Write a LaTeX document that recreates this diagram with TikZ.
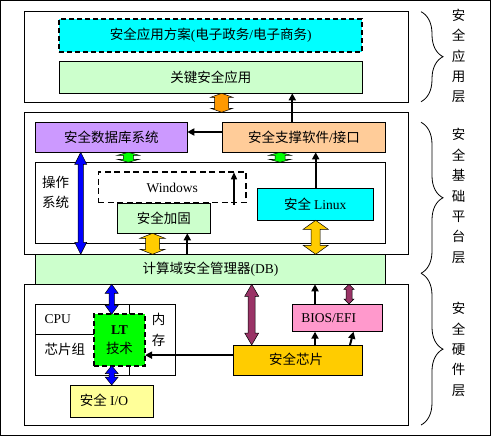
\documentclass[tikz,border=0pt]{standalone}
\usepackage{fontspec}
\setmainfont{Liberation Serif}
\newfontfamily\cjk{Noto Sans CJK SC}
\usetikzlibrary{calc,arrows.meta,decorations.pathreplacing}
\definecolor{cyanc}{HTML}{00FFFF}
\definecolor{lgreen}{HTML}{CCFFCC}
\definecolor{lpurple}{HTML}{CC99FF}
\definecolor{lorange}{HTML}{FFCC99}
\definecolor{orangea}{HTML}{FF9900}
\definecolor{greena}{HTML}{00FF00}
\definecolor{bluea}{HTML}{0000FF}
\definecolor{yellowa}{HTML}{FFCC00}
\definecolor{pinkc}{HTML}{FF99CC}
\definecolor{lyellow}{HTML}{FFFF99}
\definecolor{purplea}{HTML}{993366}
\newcommand\myfs{\fontsize{13.5pt}{16pt}\selectfont}
\newcommand\fatdbl[7]{%
  \path[draw=black, line width=0.5pt, fill=#1] let \p1=(#2 |- #3), \p2=(#2 |- #4) in
   (\x1,\y1) -- ({\x1+#6pt},{\y1-#7pt}) -- ({\x1+#5pt},{\y1-#7pt}) -- ({\x1+#5pt},{\y2+#7pt})
   -- ({\x1+#6pt},{\y2+#7pt}) -- (\x1,\y2) -- ({\x1-#6pt},{\y2+#7pt}) -- ({\x1-#5pt},{\y2+#7pt})
   -- ({\x1-#5pt},{\y1-#7pt}) -- ({\x1-#6pt},{\y1-#7pt}) -- cycle;}
\begin{document}
\begin{tikzpicture}[x=1pt,y=-1pt,
  box/.style={draw=black, line width=0.8pt, anchor=north west, inner sep=0pt, outer sep=0pt,
              font=\myfs\cjk, align=center},
  txt/.style={inner sep=0pt, font=\myfs\cjk, align=center},
  blk/.style={line width=2pt, -{Triangle[width=7pt,length=7pt]}},
  blkthin/.style={line width=1.4pt, -{Triangle[width=6pt,length=7pt]}},
  brc/.style={decorate, decoration={brace, amplitude=22pt}, line width=0.8pt},
  side/.style={inner sep=0pt, align=center, font=\fontsize{13.5pt}{20.4pt}\selectfont\cjk}]
\useasboundingbox (0,0) rectangle (491,436);
\draw[line width=1pt] (0.5,0.5) rectangle (490.5,435.5);

% application layer
\node[box, minimum width=384pt, minimum height=90.6pt] (app) at (24.3,11.7) {};
\node[box, fill=cyanc, line width=2pt, dash pattern=on 5pt off 3pt,
      minimum width=303.3pt, minimum height=32.7pt] (sol) at (59,19)
      {安全应用方案{\rmfamily(}电子政务{\rmfamily/}电子商务{\rmfamily)}};
\node[box, fill=lgreen, minimum width=303.7pt, minimum height=32pt] (key) at (59,61.3) {关键安全应用};

% platform layer
\node[box, minimum width=384pt, minimum height=142pt] (plat) at (24.3,112.3) {};
\node[box, fill=lpurple, minimum width=152pt, minimum height=30pt] (db) at (35.3,122.3) {安全数据库系统};
\node[box, fill=lorange, minimum width=163.4pt, minimum height=30pt] (sup) at (222.3,122.3) {安全支撑软件{\rmfamily/}接口};
\node[box, minimum width=350.4pt, minimum height=81pt] (os) at (35.3,162.3) {};
\node[txt, font=\fontsize{13.5pt}{20pt}\selectfont\cjk] (oslab) at (55.5,192) {操作\\系统};
\node[box, line width=1.6pt, dash pattern=on 6pt off 3.5pt, minimum width=147.7pt, minimum height=30.4pt,
      font=\myfs\rmfamily] (win) at (98.3,172.3) {Windows};
\node[box, fill=lgreen, minimum width=93pt, minimum height=30pt] (harden) at (117.3,203.3) {安全加固};
\node[box, fill=cyanc, minimum width=116pt, minimum height=32pt] (linux) at (257.3,188.3) {安全 {\rmfamily Linux}};

% hardware layer
\node[box, minimum width=384pt, minimum height=140.7pt] (hw) at (24.3,284.3) {};
\node[box, fill=lgreen, minimum width=350.4pt, minimum height=30pt] (dbm) at (35.3,254.3) {计算域安全管理器{\rmfamily(DB)}};
\node[box, minimum width=140.4pt, minimum height=71.3pt] (grid) at (35.3,304) {};
\coordinate (gh) at (35.3,334.3);
\coordinate (gv) at (129.3,304);
\draw[line width=0.8pt] (gh) -- (gh -| 94,0);
\draw[line width=0.8pt] (gv) -- (gv |- grid.south);
\node[txt, font=\myfs\rmfamily] (cpu) at (57.8,319.3) {CPU};
\node[txt] (chipset) at (65,349) {芯片组};
\node[txt, font=\fontsize{13.5pt}{20.7pt}\selectfont\cjk] (mem) at (158.7,329.7) {内\\存};
\node[box, fill=greena, line width=2pt, dash pattern=on 5pt off 3pt, minimum width=51pt, minimum height=51.4pt,
      font=\fontsize{13.5pt}{19pt}\selectfont\cjk] (lt) at (94,314.3) {{\rmfamily\bfseries LT}\\技术};
\node[box, fill=lyellow, minimum width=83pt, minimum height=32pt] (io) at (70.3,385) {};
\node[txt] (iolab) at (104,400.5) {安全 {\rmfamily I/O}};
\node[box, fill=yellowa, minimum width=129pt, minimum height=30.3pt] (schip) at (233.3,345) {};
\node[txt] (schiplab) at (296,359.5) {安全芯片};
\node[box, fill=pinkc, minimum width=90pt, minimum height=27.7pt] (bios) at (292.3,304) {};
\node[txt, font=\myfs\rmfamily] (bioslab) at (328.7,318) {BIOS/EFI};

% columns
\coordinate (k1) at (292.3,0);
\coordinate (k2) at (315.7,0);
\coordinate (k3) at (187.3,0);
\coordinate (k4) at (315,0);
\coordinate (kw) at (234,0);
\coordinate (ca) at (221.7,0);
\coordinate (cg1) at (128.3,0);
\coordinate (cg2) at (280,0);
\coordinate (cb) at (80.7,0);
\coordinate (cy1) at (152.5,0);
\coordinate (cy2) at (315.7,0);
\coordinate (cb2) at (111.7,0);
\coordinate (cp) at (251.7,0);
\coordinate (cp2) at (349,0);
\coordinate (s1) at (350,345);
\coordinate (s2) at (353.5,331.7);

% black connectors
\draw[blk] (k1 |- sup.north) -- (k1 |- key.south);
\draw[blk] ($(sup.west)+(0,-5.3)$) -- ($(db.east)+(0,-5.3)$);
\draw[blk] (k2 |- linux.north) -- (k2 |- sup.south);
\draw[blkthin] ($(kw |- win.south)+(0,2.3)$) -- (kw |- win.north);
\draw[blk] (k3 |- dbm.north) -- (k3 |- harden.south);
\draw[blk] ($(schip.west)+(0,-5)$) -- ($(lt.east |- schip.west)+(0,-5)$);
\draw[blk] (k4 |- schip.north) -- (k4 |- bios.south);
\draw[blk] (s1) -- (s2);
\draw[blk] (k4 |- bios.north) -- (k4 |- dbm.south);

% fat double arrows
\fatdbl{orangea}{ca}{key.south}{plat.north}{7}{11}{4}
\fatdbl{greena}{cg1}{db.south}{os.north}{5}{11}{3}
\fatdbl{greena}{cg2}{sup.south}{os.north}{5}{11}{3}
\fatdbl{bluea}{cb}{db.south}{dbm.north}{2.6}{6}{12}
\fatdbl{yellowa}{cy1}{harden.south}{dbm.north}{7}{12.5}{5}
\fatdbl{yellowa}{cy2}{linux.south}{dbm.north}{4.5}{12.5}{9}
\fatdbl{bluea}{cb2}{dbm.south}{lt.north}{2.6}{6.5}{9}
\fatdbl{bluea}{cb2}{lt.south}{io.north}{2.6}{6.5}{8}
\fatdbl{purplea}{cp}{dbm.south}{schip.north}{3.5}{7}{12}
\fatdbl{purplea}{cp2}{dbm.south}{bios.north}{3}{5}{5}

% braces and layer names
\draw[brc] (421,11.7) -- (421,101.7);
\draw[brc] (421,122.3) -- (421,273.3);
\draw[brc] (421,273.3) -- (421,425);
\node[side] (l1) at (458.5,56) {安\\全\\应\\用\\层};
\node[side] (l2) at (458.5,196) {安\\全\\基\\础\\平\\台\\层};
\node[side] (l3) at (458.5,349.5) {安\\全\\硬\\件\\层};
\end{tikzpicture}
\end{document}
